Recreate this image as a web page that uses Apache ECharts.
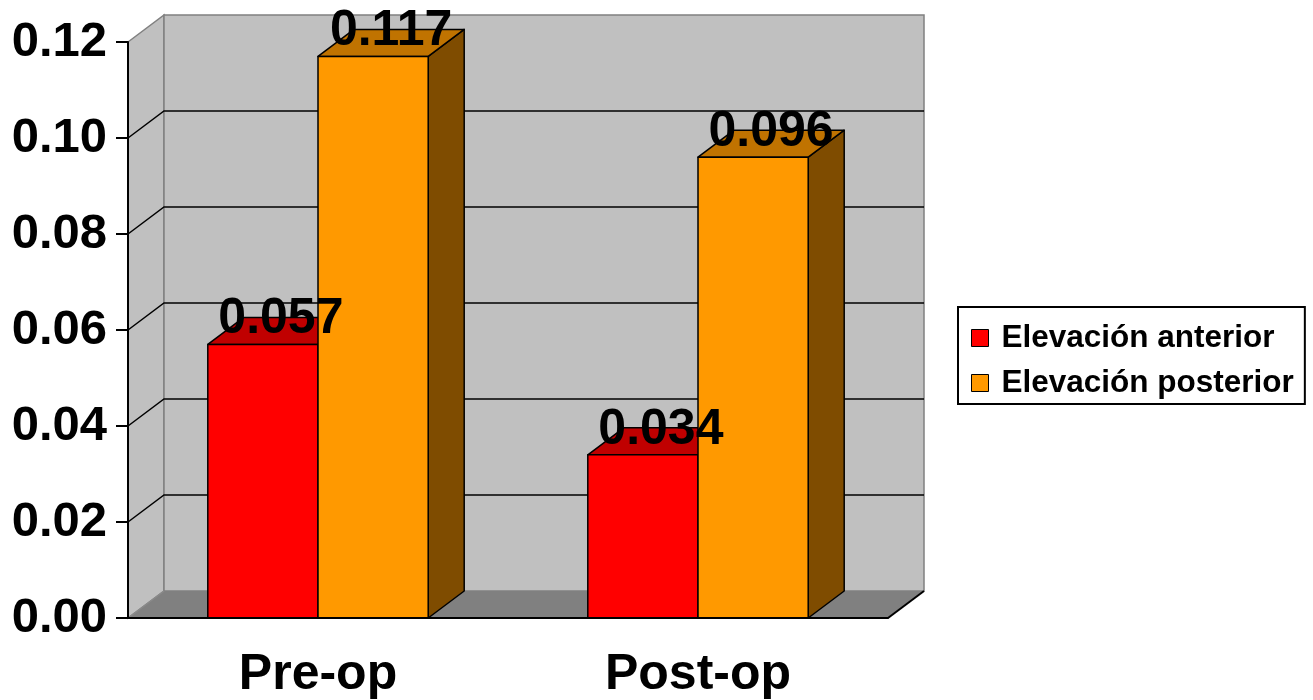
<!DOCTYPE html>
<html>
<head>
<meta charset="utf-8">
<title>Elevación anterior / posterior</title>
<script src="https://cdn.jsdelivr.net/npm/echarts@6/dist/echarts.min.js"></script>
<style>
  html, body { margin: 0; padding: 0; background: #ffffff; }
  #chart { width: 1313px; height: 700px; }
</style>
</head>
<body>
<div id="chart"></div>
<script>
// Values
const categories = ['Pre-op', 'Post-op'];
const seriesNames = ['Elevación anterior', 'Elevación posterior'];
const anterior = [0.057, 0.034];
const posterior = [0.117, 0.096];
// Value-axis ticks (also used for the gridlines on the back wall)
const yTicks = [0, 0.02, 0.04, 0.06, 0.08, 0.10, 0.12];

// 3D look: depth offset of the back plane, bar width as share of a category band
const DEPTH_X = 36;
const DEPTH_Y = -27;
const BAR_SHARE = 0.29;
const FONT = '"Liberation Sans", Arial, Helvetica, sans-serif';

const chart = echarts.init(document.getElementById('chart'), null, { renderer: 'canvas' });

// Walls, floor and back gridlines
function renderBackdrop(params, api) {
  const cs = params.coordSys;
  const x0 = cs.x, x1 = cs.x + cs.width;
  const yBase = api.coord([0, 0])[1];
  const yTop = api.coord([0, yTicks[yTicks.length - 1]])[1];
  const children = [];
  // left side wall
  children.push({
    type: 'polygon',
    shape: { points: [[x0, yTop], [x0 + DEPTH_X, yTop + DEPTH_Y], [x0 + DEPTH_X, yBase + DEPTH_Y], [x0, yBase]] },
    style: { fill: '#C0C0C0', stroke: '#808080', lineWidth: 1.5 }
  });
  // back wall
  children.push({
    type: 'rect',
    shape: { x: x0 + DEPTH_X, y: yTop + DEPTH_Y, width: x1 - x0, height: yBase - yTop },
    style: { fill: '#C0C0C0', stroke: '#808080', lineWidth: 1.5 }
  });
  // floor
  children.push({
    type: 'polygon',
    shape: { points: [[x0, yBase], [x1, yBase], [x1 + DEPTH_X, yBase + DEPTH_Y], [x0 + DEPTH_X, yBase + DEPTH_Y]] },
    style: { fill: '#808080', stroke: null }
  });
  children.push({
    type: 'line',
    shape: { x1: x0, y1: yBase, x2: x0 + DEPTH_X, y2: yBase + DEPTH_Y },
    style: { stroke: '#8a8a8a', lineWidth: 1.5 }
  });
  children.push({
    type: 'line',
    shape: { x1: x1, y1: yBase, x2: x1 + DEPTH_X, y2: yBase + DEPTH_Y },
    style: { stroke: '#000', lineWidth: 2 }
  });
  // gridlines
  yTicks.slice(1, yTicks.length - 1).forEach(function (v) {
    const y = api.coord([0, v])[1];
    children.push({
      type: 'polyline',
      shape: { points: [[x0, y], [x0 + DEPTH_X, y + DEPTH_Y], [x1 + DEPTH_X, y + DEPTH_Y]] },
      style: { stroke: '#000', lineWidth: 1.5, fill: null }
    });
  });
  return { type: 'group', children: children };
}

// Front-face horizontal extent of a column; side = -1 left of the band centre, +1 right of it
function columnSpan(api, side) {
  const catIndex = api.value(0);
  const value = api.value(1);
  const pTop = api.coord([catIndex, value]);
  const pBase = api.coord([catIndex, 0]);
  const w = api.size([1, 0])[0] * BAR_SHARE;
  const xa = side < 0 ? pTop[0] - w : pTop[0];
  return { xa: xa, xb: xa + w, yt: pTop[1], yb: pBase[1], value: value };
}

// One 3D column per data item
function makeBarRenderer(side, front, top, flank) {
  return function (params, api) {
    const s = columnSpan(api, side);
    const edge = { stroke: '#000', lineWidth: 1.5, lineJoin: 'round' };
    return {
      type: 'group',
      children: [
        {
          type: 'polygon',
          shape: { points: [[s.xb, s.yt], [s.xb + DEPTH_X, s.yt + DEPTH_Y], [s.xb + DEPTH_X, s.yb + DEPTH_Y], [s.xb, s.yb]] },
          style: Object.assign({ fill: flank }, edge)
        },
        {
          type: 'polygon',
          shape: { points: [[s.xa, s.yt], [s.xa + DEPTH_X, s.yt + DEPTH_Y], [s.xb + DEPTH_X, s.yt + DEPTH_Y], [s.xb, s.yt]] },
          style: Object.assign({ fill: top }, edge)
        },
        {
          type: 'rect',
          shape: { x: s.xa, y: s.yt, width: s.xb - s.xa, height: s.yb - s.yt },
          style: Object.assign({ fill: front }, edge)
        }
      ]
    };
  };
}

// Value label above each column, drawn in a layer over all columns
function makeLabelRenderer(side) {
  return function (params, api) {
    const s = columnSpan(api, side);
    return {
      type: 'text',
      style: {
        text: s.value.toFixed(3),
        x: (s.xa + s.xb) / 2 + DEPTH_X / 2,
        y: s.yt - 25,
        align: 'center',
        verticalAlign: 'middle',
        fill: '#000',
        font: 'bold 50px ' + FONT
      }
    };
  };
}

const anteriorData = categories.map(function (c, i) { return [i, anterior[i]]; });
const posteriorData = categories.map(function (c, i) { return [i, posterior[i]]; });

const option = {
  animation: false,
  backgroundColor: '#ffffff',
  grid: { left: 128, right: 425, top: 42, bottom: 80, containLabel: false },
  legend: {
    data: seriesNames,
    orient: 'vertical',
    left: 958,
    top: 307,
    icon: 'rect',
    itemWidth: 17,
    itemHeight: 17,
    itemGap: 13,
    padding: [15, 11, 5, 13],
    borderColor: '#000',
    borderWidth: 2,
    backgroundColor: '#ffffff',
    itemStyle: { borderColor: '#000', borderWidth: 1 },
    textStyle: {
      fontFamily: FONT,
      fontWeight: 'bold',
      fontSize: 31.5,
      color: '#000',
      padding: [0, 0, 0, 8]
    },
    selectedMode: false
  },
  xAxis: {
    type: 'category',
    data: categories,
    z: 10,
    axisLine: { lineStyle: { color: '#000', width: 2 } },
    axisTick: { alignWithLabel: false, length: 12, lineStyle: { color: '#000', width: 2 } },
    axisLabel: {
      margin: 32,
      color: '#000',
      fontFamily: FONT,
      fontWeight: 'bold',
      fontSize: 50
    },
    splitLine: { show: false }
  },
  yAxis: {
    type: 'value',
    min: 0,
    max: 0.12,
    interval: 0.02,
    z: 10,
    axisLine: { show: true, lineStyle: { color: '#000', width: 2 } },
    axisTick: { show: true, length: 12, lineStyle: { color: '#000', width: 2 } },
    axisLabel: {
      margin: 21,
      color: '#000',
      fontFamily: FONT,
      fontWeight: 'bold',
      fontSize: 49,
      formatter: function (v) { return v.toFixed(2); }
    },
    splitLine: { show: false }
  },
  series: [
    {
      type: 'custom',
      name: 'backdrop',
      z: 1,
      silent: true,
      data: [[0, 0]],
      renderItem: renderBackdrop
    },
    {
      type: 'custom',
      name: seriesNames[0],
      z: 3,
      itemStyle: { color: '#FF0000' },
      data: anteriorData,
      renderItem: makeBarRenderer(-1, '#FF0000', '#C00000', '#800000')
    },
    {
      type: 'custom',
      name: seriesNames[1],
      z: 4,
      itemStyle: { color: '#FF9900' },
      data: posteriorData,
      renderItem: makeBarRenderer(1, '#FF9900', '#C07300', '#7F4C00')
    },
    {
      type: 'custom',
      name: 'labels-anterior',
      z: 6,
      silent: true,
      data: anteriorData,
      renderItem: makeLabelRenderer(-1)
    },
    {
      type: 'custom',
      name: 'labels-posterior',
      z: 6,
      silent: true,
      data: posteriorData,
      renderItem: makeLabelRenderer(1)
    }
  ]
};

chart.setOption(option);
</script>
</body>
</html>
